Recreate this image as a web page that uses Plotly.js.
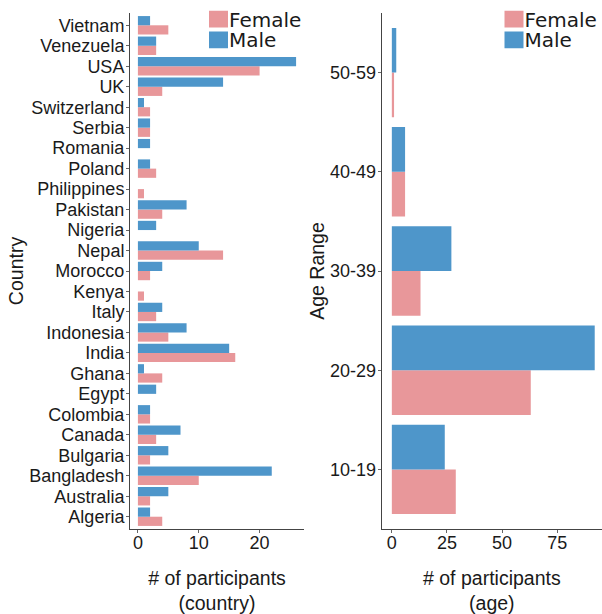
<!DOCTYPE html>
<html>
<head>
<meta charset="utf-8">
<script src="https://cdn.plot.ly/plotly-3.0.1.min.js"></script>
<style>html,body{margin:0;padding:0;background:#fff;} #chart{width:602px;height:614px;}</style>
</head>
<body>
<div id="chart"></div>
<script>
const countries = ['Algeria','Australia','Bangladesh','Bulgaria','Canada','Colombia','Egypt','Ghana','India','Indonesia','Italy','Kenya','Morocco','Nepal','Nigeria','Pakistan','Philippines','Poland','Romania','Serbia','Switzerland','UK','USA','Venezuela','Vietnam'];
const femaleByCountry = [4,2,10,2,3,2,0,4,16,5,3,1,2,14,0,4,1,3,0,2,2,4,20,3,5];
const maleByCountry   = [2,5,22,5,7,2,3,1,15,8,4,0,4,10,3,8,0,2,2,2,1,14,26,3,2];
const ageRanges = ['10-19','20-29','30-39','40-49','50-59'];
const femaleByAge = [29,63,13,6,1];
const maleByAge   = [24,92,27,6,2];
const countryTicks = [0,10,20];
const ageTicks = [0,25,50,75];

const FEMALE = '#E8979A', MALE = '#4E96CA';
const FONT = 'Liberation Sans, Arial, sans-serif';
const W = 602, H = 614, MT = 13, MB = 85;

const traces = [
  {type:'bar', orientation:'h', name:'Female', x:femaleByCountry, y:countries, xaxis:'x', yaxis:'y', marker:{color:FEMALE}, legend:'legend'},
  {type:'bar', orientation:'h', name:'Male', x:maleByCountry, y:countries, xaxis:'x', yaxis:'y', marker:{color:MALE}, legend:'legend'},
  {type:'bar', orientation:'h', name:'Female', x:femaleByAge, y:ageRanges, xaxis:'x2', yaxis:'y2', marker:{color:FEMALE}, legend:'legend2'},
  {type:'bar', orientation:'h', name:'Male', x:maleByAge, y:ageRanges, xaxis:'x2', yaxis:'y2', marker:{color:MALE}, legend:'legend2'}
];

const axCommon = {showline:true, linecolor:'#444', linewidth:1, ticks:'outside', ticklen:3, tickcolor:'#666', tickwidth:1,
  showgrid:false, zeroline:false, tickfont:{family:FONT, size:18, color:'#1a1a1a'}, automargin:false};
const titleFont = {family:FONT, size:19.5, color:'#1a1a1a'};

const layout = {
  width:W, height:H, paper_bgcolor:'#fff', plot_bgcolor:'#fff',
  margin:{l:0, r:0, t:MT, b:MB, pad:0, autoexpand:false},
  font:{family:FONT, color:'#1a1a1a'},
  barmode:'group', bargap:0.1, bargroupgap:0,
  xaxis: Object.assign({}, axCommon, {domain:[130/W, 304/W], range:[-1.3, 27.3], tickvals:countryTicks, anchor:'y',
    ticklabelstandoff:-6,
    title:{text:'# of participants<br>(country)', font:titleFont, standoff:25}}),
  yaxis: Object.assign({}, axCommon, {domain:[0,1], type:'category', categoryorder:'array', categoryarray:countries,
    tickmode:'linear', tick0:0, dtick:1, range:[-0.6, 24.6], anchor:'x', ticklabelstandoff:-2,
    title:{text:'Country', font:titleFont, standoff:0}}),
  xaxis2: Object.assign({}, axCommon, {domain:[381.7/W, 1], range:[-4.6, 95.3], tickvals:ageTicks, anchor:'y2',
    ticklabelstandoff:-6,
    title:{text:'# of participants<br>(age)', font:titleFont, standoff:25}}),
  yaxis2: Object.assign({}, axCommon, {domain:[0,1], type:'category', categoryorder:'array', categoryarray:ageRanges,
    tickmode:'linear', tick0:0, dtick:1, range:[-0.6, 4.6], anchor:'x2', ticklabelstandoff:-2,
    title:{text:'Age Range', font:titleFont, standoff:0}}),
  legend:{x:190/W, xanchor:'left', y:1, yanchor:'top', bgcolor:'rgba(0,0,0,0)', borderwidth:0,
    font:{family:'DejaVu Sans', size:20, color:'#1a1a1a'}, traceorder:'normal', itemwidth:30},
  legend2:{x:1, xanchor:'right', y:1, yanchor:'top', bgcolor:'rgba(0,0,0,0)', borderwidth:0,
    font:{family:'DejaVu Sans', size:20, color:'#1a1a1a'}, traceorder:'normal', itemwidth:30},
  showlegend:true
};

function parseT(t){ const m = /translate\(\s*([-\d.e]+)[ ,]+([-\d.e]+)\s*\)/.exec(t||''); return m ? [parseFloat(m[1]), parseFloat(m[2])] : [0,0]; }

const legendTargets = {legend:{left:229, cy:19.5}, legend2:{left:524.5, cy:19.5}};

function findLegend(id){
  const cands = Array.from(document.querySelectorAll('g.' + id));
  for (const c of cands) {
    const items = Array.from(c.querySelectorAll('g.traces')).filter(it => it.querySelector('text'));
    if (items.length >= 2) return {leg:c, items:items};
  }
  return null;
}

function fixOne(id){
  const f = findLegend(id);
  if (!f) return;
  const leg = f.leg, items = f.items;
  const t0 = parseT(items[0].getAttribute('transform'));
  const t1 = parseT(items[1].getAttribute('transform'));
  items[1].setAttribute('transform', 'translate(' + t1[0] + ',' + (t0[1] + 20.7) + ')');
  const txt0 = items[0].querySelector('text.legendtext') || items[0].querySelector('text');
  const r0 = txt0.getBoundingClientRect();
  const tgt = legendTargets[id];
  const dx = tgt.left - r0.left, dy = tgt.cy - (r0.top + r0.height/2);
  const lt = parseT(leg.getAttribute('transform'));
  leg.setAttribute('transform', 'translate(' + (lt[0] + dx) + ',' + (lt[1] + dy) + ')');
  items.forEach(it => {
    const txt = it.querySelector('text.legendtext') || it.querySelector('text');
    const path = it.querySelector('g.legendpoints path') || it.querySelector('path');
    if (!txt || !path) return;
    const r = txt.getBoundingClientRect();
    const x2 = r.left - 1, x1 = x2 - 19;
    const yc = r.top + r.height/2 - 0.3;
    const y1 = yc - 8.4, y2 = yc + 8.4;
    const svg = path.ownerSVGElement;
    const inv = path.getScreenCTM().inverse();
    const pt = svg.createSVGPoint();
    pt.x = x1; pt.y = y1; const a = pt.matrixTransform(inv);
    pt.x = x2; pt.y = y2; const b = pt.matrixTransform(inv);
    path.setAttribute('d', 'M'+a.x+','+a.y+'H'+b.x+'V'+b.y+'H'+a.x+'Z');
    path.style.strokeWidth = '0px';
  });
}

function fixLegends(){
  Object.keys(legendTargets).forEach(id => { try { fixOne(id); } catch (e) { console.log('legend fix failed', id, e); } });
}

Plotly.newPlot('chart', traces, layout, {staticPlot:true, displayModeBar:false}).then(fixLegends);
</script>
</body>
</html>
